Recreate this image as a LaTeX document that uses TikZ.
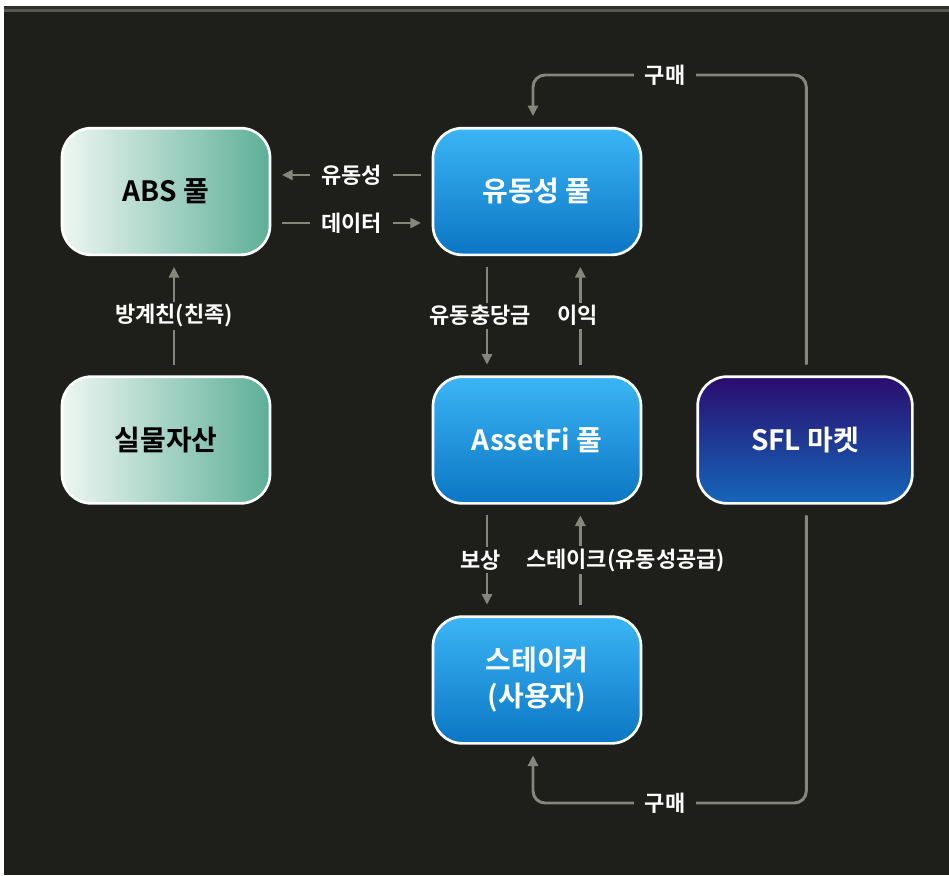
\documentclass[tikz,border=0pt]{standalone}
\usepackage{fontspec}
\setmainfont{Noto Sans CJK KR}[BoldFont={Noto Sans CJK KR Bold}]
\usetikzlibrary{arrows.meta}
\definecolor{bgdark}{HTML}{1E1E1A}
\definecolor{flowgray}{HTML}{86867F}
\definecolor{tealend}{HTML}{5DAF97}
\definecolor{tealstart}{HTML}{EEF6F2}
\definecolor{bluetop}{HTML}{3BB5F5}
\definecolor{bluebot}{HTML}{0B76C4}
\definecolor{navytop}{HTML}{2A0C6E}
\definecolor{navybot}{HTML}{1566BA}

\begin{document}
\begin{tikzpicture}[x=0.75pt, y=-0.75pt,
	box/.style={draw=white, line width=2pt, rounded corners=22pt,
		minimum width=156pt, minimum height=95pt, align=center,
		font=\bfseries\fontsize{21}{27}\selectfont},
	absbox/.style={box, left color=tealstart, right color=tealend, text=black},
	poolbox/.style={box, top color=bluetop, bottom color=bluebot, text=white},
	sflbox/.style={box, top color=navytop, bottom color=navybot, text=white,
		minimum width=161pt},
	flow/.style={draw=flowgray, line width=2.2pt,
		-{Triangle[length=8pt,width=7.5pt]}, shorten >=8pt, shorten <=8pt},
	lbl/.style={fill=bgdark, text=white, inner xsep=8pt, inner ysep=2pt,
		font=\bfseries\fontsize{16.5}{19}\selectfont}]
\useasboundingbox (0,0) rectangle (949,875);
\fill[bgdark] (4,6) rectangle (949,875);
\fill[black!20!bgdark!90!white] (4,6) rectangle (949,9);
\fill[flowgray!55!bgdark] (4,9) rectangle (949,12);

\node[absbox] (abs) at (166, 191.5) {ABS 풀};
\node[poolbox] (liq) at (537, 191.5) {유동성 풀};
\node[absbox] (real) at (166, 440) {실물자산};
\node[poolbox] (asset) at (537, 440) {AssetFi 풀};
\node[sflbox] (sfl) at (805, 440) {SFL 마켓};
\node[poolbox] (staker) at (537, 680) {스테이커\\(사용자)};

\coordinate (topL) at (533, 75);
\coordinate (botL) at (533, 803);

% pools
\draw[flow] ([yshift=12.4pt]liq.west) -- ([yshift=12.4pt]abs.east)
	node[midway, lbl] {유동성};
\draw[flow] ([yshift=-23.6pt]abs.east) -- ([yshift=-23.6pt]liq.west)
	node[midway, lbl] {데이터};
\draw[flow] ([xshift=6pt]real.north) -- ([xshift=6pt]abs.south)
	node[midway, lbl] {방계친(친족)};

% liquidity <-> AssetFi
\draw[flow] ([xshift=-37.5pt]liq.south) -- ([xshift=-37.5pt]asset.north)
	node[midway, lbl, xshift=-5pt] {유동충당금};
\draw[flow] ([xshift=32.5pt]asset.north) -- ([xshift=32.5pt]liq.south)
	node[midway, lbl, xshift=-2pt] {이익};

% AssetFi <-> staker
\draw[flow] ([xshift=-37.5pt]asset.south) -- ([xshift=-37.5pt]staker.north)
	node[midway, lbl, xshift=-5pt] {보상};
\draw[flow] ([xshift=32.5pt]staker.north) -- ([xshift=32.5pt]asset.south)
	node[midway, lbl, xshift=34pt] {스테이크(유동성공급)};

% market
\draw[flow, rounded corners=9pt] ([xshift=1pt]sfl.north) |- (topL)
	-- ([xshift=-3pt]liq.north);
\draw[flow, rounded corners=9pt] ([xshift=1pt]sfl.south) |- (botL)
	-- ([xshift=-3pt]staker.south);
\node[lbl] (buytop) at (665, 75) {구매};
\node[lbl] (buybot) at (665, 803) {구매};
\end{tikzpicture}
\end{document}
